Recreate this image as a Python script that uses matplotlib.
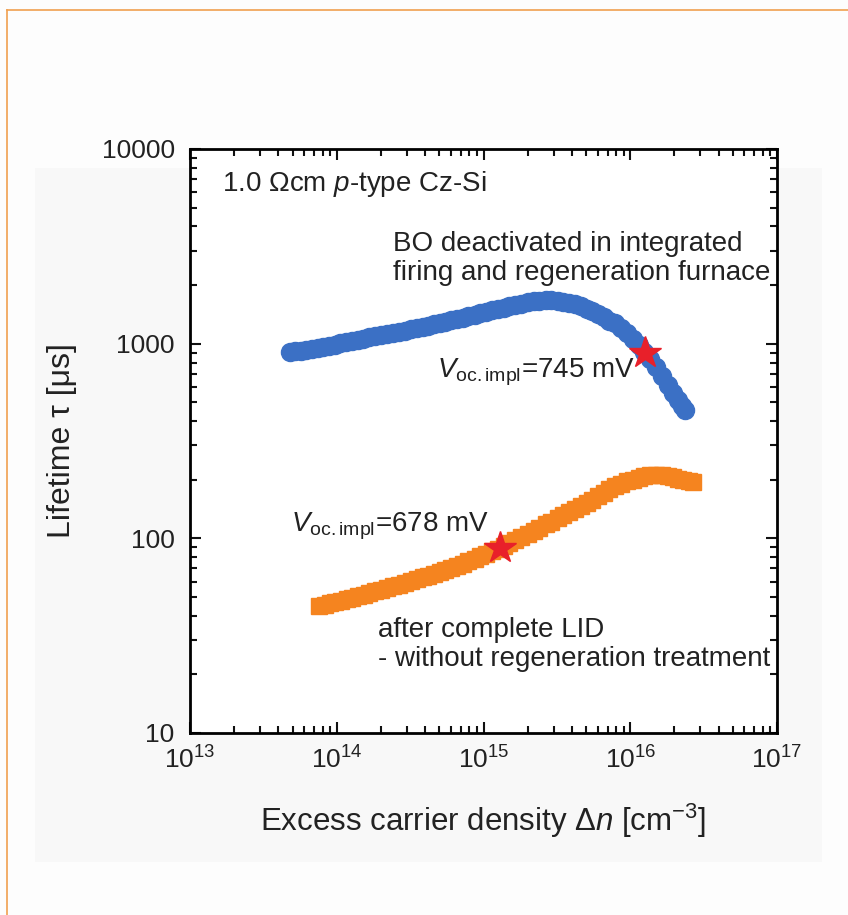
import matplotlib
matplotlib.use("Agg")
import matplotlib.pyplot as plt
from matplotlib.patches import Rectangle
from matplotlib.lines import Line2D
from matplotlib.ticker import LogLocator, NullFormatter, FixedLocator

plt.rcParams['font.family'] = ['Liberation Sans', 'DejaVu Sans']
plt.rcParams['mathtext.fontset'] = 'custom'
plt.rcParams['mathtext.rm'] = 'Liberation Sans'
plt.rcParams['mathtext.it'] = 'Liberation Sans:italic'

# Lifetime after BO deactivation (integrated firing + regeneration)
dn_regen = [4.8e13, 5.2e13, 5.7e13, 6.2e13, 6.8e13, 7.4e13, 8.1e13, 8.9e13, 9.7e13,
            1.06e14, 1.16e14, 1.27e14, 1.39e14, 1.52e14, 1.66e14, 1.82e14, 2.0e14,
            2.2e14, 2.4e14, 2.65e14, 2.9e14, 3.2e14, 3.5e14, 3.85e14, 4.2e14, 4.6e14,
            5.05e14, 5.5e14, 6.0e14, 6.6e14, 7.2e14, 7.9e14, 8.7e14, 9.5e14, 1.04e15,
            1.14e15, 1.25e15, 1.37e15, 1.5e15, 1.65e15, 1.8e15, 2.0e15, 2.2e15, 2.4e15,
            2.65e15, 2.9e15, 3.2e15, 3.5e15, 3.85e15, 4.2e15, 4.6e15, 5.05e15, 5.5e15,
            6.0e15, 6.6e15, 7.2e15, 7.9e15, 8.7e15, 9.5e15, 1.04e16, 1.14e16, 1.25e16,
            1.37e16, 1.5e16, 1.65e16, 1.8e16, 1.95e16, 2.1e16, 2.25e16, 2.35e16]
tau_regen = [905, 912, 920, 930, 940, 950, 962, 975, 990,
             1002, 1015, 1030, 1045, 1062, 1078, 1093, 1108,
             1122, 1137, 1152, 1168, 1185, 1200, 1218, 1236, 1255,
             1275, 1295, 1318, 1340, 1362, 1385, 1410, 1435, 1460,
             1485, 1508, 1530, 1555, 1580, 1605, 1630, 1650, 1665,
             1672, 1672, 1662, 1645, 1620, 1590, 1555, 1515, 1470,
             1420, 1365, 1310, 1270, 1200, 1130, 1055, 980, 905,
             830, 755, 680, 615, 560, 515, 480, 456]

# Lifetime after complete LID, no regeneration
dn_lid = [7.6e13, 8.3e13, 9.0e13, 9.8e13, 1.07e14, 1.17e14, 1.28e14, 1.4e14, 1.53e14,
          1.67e14, 1.82e14, 2.0e14, 2.2e14, 2.4e14, 2.65e14, 2.9e14, 3.2e14, 3.5e14,
          3.85e14, 4.2e14, 4.6e14, 5.05e14, 5.5e14, 6.0e14, 6.6e14, 7.2e14, 7.9e14,
          8.7e14, 9.5e14, 1.04e15, 1.14e15, 1.25e15, 1.37e15, 1.5e15, 1.65e15, 1.8e15,
          2.0e15, 2.2e15, 2.4e15, 2.65e15, 2.9e15, 3.2e15, 3.5e15, 3.85e15, 4.2e15,
          4.6e15, 5.05e15, 5.5e15, 6.0e15, 6.6e15, 7.2e15, 7.9e15, 8.7e15, 9.5e15,
          1.04e16, 1.14e16, 1.25e16, 1.37e16, 1.5e16, 1.65e16, 1.8e16, 1.95e16,
          2.1e16, 2.3e16, 2.5e16, 2.68e16]
tau_lid = [44.9, 45.6, 46.3, 47.1, 47.9, 48.7, 49.6, 50.5, 51.4,
           52.4, 53.4, 54.5, 55.5, 56.6, 57.8, 59.0, 60.3, 61.6,
           63.0, 64.4, 65.9, 67.4, 68.9, 70.0, 72.1, 74.2, 76.4,
           78.7, 80.9, 83.2, 85.7, 88.1, 91.2, 94.4, 98.0, 101.4,
           105.6, 109.5, 113.3, 117.8, 122, 126.7, 131.2, 136, 140.7,
           146, 152, 158, 164.5, 171.8, 178.6, 185.5, 191, 196,
           200.5, 204.5, 208, 210.4, 211.3, 211, 208.5, 205.6,
           202, 198.6, 196, 195]

# Implied Voc operating points
star_dn = [1.26e16, 1.3e15]
star_tau = [900, 89]
star_labels = ["745", "678"]

x_ticks = [1e13, 1e14, 1e15, 1e16, 1e17]
x_ticklabels = [r'$\mathregular{10^{13}}$', r'$\mathregular{10^{14}}$',
                r'$\mathregular{10^{15}}$', r'$\mathregular{10^{16}}$',
                r'$\mathregular{10^{17}}$']
y_ticks = [10, 100, 1000, 10000]
y_ticklabels = ['10', '100', '1000', '10000']

W, H = 848, 915
fig = plt.figure(figsize=(W / 100, H / 100), dpi=100)
fig.patch.set_facecolor('#fdfdfd')

# faint panel behind the plot and the thin frame lines
fig.patches.append(Rectangle((35 / W, 1 - 862 / H), (822 - 35) / W, (862 - 168) / H,
                             transform=fig.transFigure, facecolor='#f8f8f8',
                             edgecolor='none', zorder=-5))
fig.lines.append(Line2D([7 / W, 1.0], [1 - 10 / H, 1 - 10 / H], transform=fig.transFigure,
                        color='#f0a050', lw=1.2))
fig.lines.append(Line2D([7 / W, 7 / W], [0, 1 - 10 / H], transform=fig.transFigure,
                        color='#f0a050', lw=1.2))

ax = fig.add_axes([190 / W, 1 - 733 / H, 587 / W, 584 / H])
ax.set_facecolor('white')
ax.set_xscale('log')
ax.set_yscale('log')
ax.set_xlim(1e13, 1e17)
ax.set_ylim(10, 10000)

blue = '#3b70c5'
orange = '#f5841f'
ax.plot(dn_regen, tau_regen, 'o', ms=13, color=blue, mec=blue, zorder=3)
ax.plot(dn_lid, tau_lid, 's', ms=12, color=orange, mec=orange, zorder=3)
ax.plot(star_dn, star_tau, '*', ms=24, color='#e8202a', mec='#e8202a', zorder=4)

ax.xaxis.set_major_locator(FixedLocator(x_ticks))
ax.set_xticklabels(x_ticklabels)
ax.yaxis.set_major_locator(FixedLocator(y_ticks))
ax.set_yticklabels(y_ticklabels)
ax.xaxis.set_minor_locator(LogLocator(base=10, subs=range(2, 10), numticks=20))
ax.yaxis.set_minor_locator(LogLocator(base=10, subs=range(2, 10), numticks=20))
ax.xaxis.set_minor_formatter(NullFormatter())
ax.yaxis.set_minor_formatter(NullFormatter())

for s in ax.spines.values():
    s.set_linewidth(2.0)
ax.tick_params(which='both', direction='in', top=True, right=True, width=1.5,
               colors='#111111', labelcolor='#222222')
ax.tick_params(which='major', length=8, labelsize=19)
ax.tick_params(axis='y', which='major', pad=11)
ax.tick_params(axis='x', which='major', pad=10)
ax.tick_params(which='minor', length=5)

ax.set_xlabel(r'Excess carrier density $\Delta\mathit{n}$ [cm$^{\mathregular{-3}}$]',
              fontsize=22.5, color='#222222', labelpad=20)
ax.set_ylabel('Lifetime τ [μs]', fontsize=23, color='#222222', labelpad=18)

tc = '#222222'
fs = 20
ax.text(0.0545, 0.94, r'1.0 $\Omega$cm $\mathit{p}$-type Cz-Si', transform=ax.transAxes,
        fontsize=fs, color=tc, va='center', ha='left')
ax.text(0.346, 0.813, 'BO deactivated in integrated\nfiring and regeneration furnace',
        transform=ax.transAxes, fontsize=fs, color=tc, va='center', ha='left',
        linespacing=1.15)
ax.text(0.421, 0.618, r'$\mathit{V}_{\mathregular{oc.impl}}$=' + star_labels[0] + ' mV',
        transform=ax.transAxes, fontsize=fs, color=tc, va='center', ha='left')
ax.text(0.172, 0.354, r'$\mathit{V}_{\mathregular{oc.impl}}$=' + star_labels[1] + ' mV',
        transform=ax.transAxes, fontsize=fs, color=tc, va='center', ha='left')
ax.text(0.32, 0.151, 'after complete LID\n- without regeneration treatment',
        transform=ax.transAxes, fontsize=fs, color=tc, va='center', ha='left',
        linespacing=1.15)

fig.savefig('out.png', dpi=100, facecolor=fig.get_facecolor())
